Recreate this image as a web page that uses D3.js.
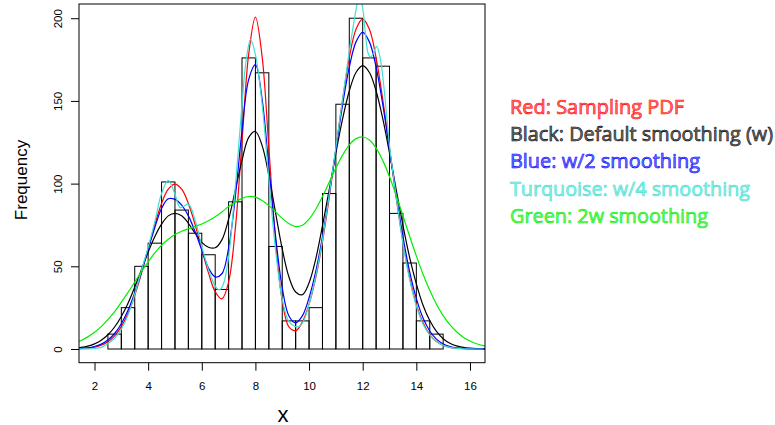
<!DOCTYPE html>
<html>
<head>
<meta charset="utf-8">
<script src="https://cdn.jsdelivr.net/npm/d3@7"></script>
<style>
  body { margin: 0; background: #fff; }
  svg { display: block; }
</style>
</head>
<body>
<script>
// histogram
const breaks = [2.5, 3, 3.5, 4, 4.5, 5, 5.5, 6, 6.5, 7, 7.5, 8, 8.5, 9, 9.5, 10, 10.5, 11, 11.5, 12, 12.5, 13, 13.5, 14, 14.5, 15];
const counts = [9, 25, 50, 64, 101, 84, 70, 57, 36, 89, 176, 167, 62, 17, 17, 25, 94, 148, 200, 176, 171, 82, 52, 17, 9];

// shared x grid for the smooth curves
const xs = [1.25, 1.5, 1.75, 2, 2.25, 2.5, 2.75, 3, 3.25, 3.5, 3.75, 4, 4.25, 4.5, 4.75, 5, 5.25, 5.5, 5.75, 6,
  6.25, 6.5, 6.75, 7, 7.25, 7.5, 7.75, 8, 8.25, 8.5, 8.75, 9, 9.25, 9.5, 9.75, 10, 10.25, 10.5, 10.75, 11,
  11.25, 11.5, 11.75, 12, 12.25, 12.5, 12.75, 13, 13.25, 13.5, 13.75, 14, 14.25, 14.5, 14.75, 15, 15.25, 15.5, 15.75, 16,
  16.25, 16.5, 16.75];

const redPdf = [0.09, 0.22, 0.51, 1.11, 2.27, 4.38, 7.94, 13.5, 21.6, 32.4, 45.6, 60.5, 75.3, 88.0, 96.6, 99.7, 96.6, 88.0, 75.3, 60.6,
  46.0, 34.6, 30.3, 40.5, 72.7, 125.4, 178.4, 200.7, 176.8, 121.7, 65.9, 29.2, 13.3, 11.0, 16.3, 27.1, 43.2, 64.8, 91.3, 121.0,
  150.6, 176.1, 193.4, 199.5, 193.4, 176.1, 150.6, 121.0, 91.3, 64.8, 43.2, 27.0, 15.9, 8.76, 4.55, 2.21, 1.01, 0.44, 0.18, 0.07,
  0.02, 0.01, 0];

const blackW = [0.49, 0.94, 1.76, 3.12, 5.3, 8.59, 13.3, 19.7, 27.7, 37.4, 48.0, 58.5, 68.0, 75.5, 80.5, 82.0, 80.5, 76.0, 70.0, 64.5,
  61.5, 61.2, 66.0, 78.5, 96.0, 114.0, 128.0, 131.5, 123.0, 105.0, 82.5, 60.5, 43.5, 34.5, 32.8, 40.0, 54.5, 74.5, 96.3, 118.5,
  139.1, 156.0, 167.2, 171.3, 167.2, 156.0, 139.1, 118.4, 96.3, 74.8, 55.4, 39.4, 26.5, 17.2, 10.6, 6.25, 3.52, 1.88, 0.97, 0.48,
  0.22, 0.1, 0.04];

const blueHalfW = [0.15, 0.35, 0.75, 1.54, 2.97, 5.43, 9.37, 15.3, 23.4, 34.0, 46.6, 60.4, 73.5, 85.0, 90.8, 90.5, 87.0, 80.5, 71.0, 59.8,
  49.0, 43.6, 45.5, 61.0, 92.0, 132.0, 163.0, 172.0, 151.0, 110.0, 68.5, 37.0, 20.0, 15.8, 20.0, 31.0, 46.9, 68.0, 93.2, 120.7,
  147.6, 170.4, 185.7, 191.5, 185.7, 170.4, 147.6, 120.7, 93.2, 68.0, 46.8, 30.6, 18.7, 10.9, 5.94, 3.08, 1.5, 0.69, 0.3, 0.12,
  0.05, 0.02, 0.01];

const green2W = [3.58, 5.18, 7.34, 10.1, 13.5, 17.8, 22.6, 28.3, 34.2, 40.5, 46.8, 52.7, 58.1, 62.8, 66.4, 69.2, 71.2, 72.7, 74.1, 75.6,
  77.6, 80.0, 82.9, 86.1, 88.9, 91.1, 92.2, 91.8, 89.8, 86.7, 82.9, 79.0, 75.8, 74.0, 74.8, 78.5, 84.5, 92.2, 100.8, 109.5,
  117.2, 123.4, 127.2, 128.2, 126.4, 121.5, 113.9, 104.2, 92.7, 80.6, 68.2, 56.3, 45.2, 35.5, 27.1, 20.2, 14.7, 10.4, 7.15, 4.81,
  3.15, 2.02, 1.25];

// turquoise follows the sample noise, so it has its own x points
const turqX = [1.25, 1.5, 1.75, 2, 2.25, 2.5, 2.75, 3, 3.25, 3.5, 3.75, 4, 4.25, 4.5, 4.75, 5, 5.2, 5.5, 5.75, 6,
  6.25, 6.5, 6.65, 6.8, 7, 7.25, 7.5, 7.65, 7.82, 8, 8.25, 8.5, 8.75, 9, 9.25, 9.5, 9.65, 9.8, 10, 10.25,
  10.5, 10.75, 11, 11.25, 11.5, 11.75, 11.87, 12, 12.1, 12.2, 12.3, 12.4, 12.52, 12.65, 12.8, 13, 13.25, 13.5, 13.75, 14,
  14.25, 14.5, 14.75, 15, 15.25, 15.5, 15.75, 16, 16.5];
const turqY = [0, 0.05, 0.1, 0.3, 1.0, 3.2, 6.5, 12.0, 20.5, 33.0, 47.5, 61.5, 77.0, 94.0, 102.0, 93.5, 85.5, 87.5, 78.0, 62.0,
  48.0, 38.0, 35.7, 39.0, 56.0, 98.0, 148.0, 174.0, 187.0, 178.0, 148.0, 103.0, 60.0, 30.0, 16.5, 13.5, 13.8, 17.0, 27.0, 44.0,
  66.0, 93.0, 122.0, 151.0, 180.0, 205.0, 215.0, 206.0, 191.0, 179.0, 176.5, 179.0, 183.0, 176.0, 157.0, 123.0, 92.0, 64.0, 42.0, 26.0,
  15.0, 8.5, 4.5, 2.2, 1.0, 0.4, 0.1, 0.03, 0];

const xTicks = [2, 4, 6, 8, 10, 12, 14, 16];
const yTicks = [0, 50, 100, 150, 200];

const legendLines = ['Red: Sampling PDF', 'Black: Default smoothing (w)', 'Blue: w/2 smoothing', 'Turquoise: w/4 smoothing', 'Green: 2w smoothing'];
const legendColors = ['#ff0000', '#000000', '#0000ff', '#40e0d0', '#00ee00'];
const legendWidths = [174, 263, 190, 240, 198];

const width = 775, height = 425;
const plot = { left: 79, right: 485, top: 4, bottom: 362.7 };

const svg = d3.select('body').append('svg')
  .attr('width', width)
  .attr('height', height);

const x = d3.scaleLinear().domain([1.422, 16.56]).range([plot.left, plot.right]);
const y = d3.scaleLinear().domain([-8.28, 208.6]).range([plot.bottom, plot.top]);

svg.append('clipPath').attr('id', 'clip')
  .append('rect')
  .attr('x', plot.left).attr('y', plot.top)
  .attr('width', plot.right - plot.left).attr('height', plot.bottom - plot.top);

// bars
svg.append('g')
  .selectAll('rect')
  .data(counts)
  .enter()
  .append('rect')
  .attr('x', (d, i) => x(breaks[i]))
  .attr('y', d => y(d))
  .attr('width', (d, i) => x(breaks[i + 1]) - x(breaks[i]))
  .attr('height', d => y(0) - y(d))
  .style('fill', 'none')
  .style('stroke', '#000')
  .style('stroke-width', 1);

const line = d3.line()
  .x(d => x(d[0]))
  .y(d => y(d[1]))
  .curve(d3.curveCatmullRom);

const curves = [
  { xv: xs, yv: redPdf, color: legendColors[0] },
  { xv: xs, yv: blackW, color: legendColors[1] },
  { xv: xs, yv: blueHalfW, color: legendColors[2] },
  { xv: turqX, yv: turqY, color: legendColors[3] },
  { xv: xs, yv: green2W, color: legendColors[4] }
];

const curveG = svg.append('g').attr('clip-path', 'url(#clip)');
curves.forEach(c => {
  curveG.append('path')
    .datum(c.xv.map((v, i) => [v, c.yv[i]]))
    .attr('d', line)
    .style('fill', 'none')
    .style('stroke', c.color)
    .style('stroke-width', 1.2);
});

// box
svg.append('rect')
  .attr('x', plot.left).attr('y', plot.top)
  .attr('width', plot.right - plot.left).attr('height', plot.bottom - plot.top)
  .style('fill', 'none').style('stroke', '#000').style('stroke-width', 1);

// x axis
const xAxis = svg.append('g')
  .attr('transform', `translate(0,${plot.bottom})`)
  .call(d3.axisBottom(x).tickValues(xTicks).tickSize(8).tickPadding(11))
  .call(g => g.select('.domain').remove());
xAxis.selectAll('text')
  .style('font-family', '"Liberation Sans", Arial, sans-serif')
  .style('font-size', '11.5px')
  .style('fill', '#000');

// y axis
const yAxis = svg.append('g')
  .attr('transform', `translate(${plot.left},0)`)
  .call(d3.axisLeft(y).tickValues(yTicks).tickSize(8))
  .call(g => g.select('.domain').remove());
yAxis.selectAll('text')
  .attr('x', 0)
  .attr('y', -17.3)
  .attr('dy', 0)
  .attr('transform', 'rotate(-90)')
  .style('text-anchor', 'middle')
  .style('font-family', '"Liberation Sans", Arial, sans-serif')
  .style('font-size', '11.5px')
  .style('fill', '#000');

svg.selectAll('.tick line').style('stroke', '#000');

svg.append('text')
  .attr('x', 283)
  .attr('y', 421.5)
  .attr('text-anchor', 'middle')
  .style('font-family', '"Liberation Sans", Arial, sans-serif')
  .style('font-size', '22px')
  .text('x');

svg.append('text')
  .attr('transform', 'translate(26.5,180) rotate(-90)')
  .attr('text-anchor', 'middle')
  .style('font-family', '"Liberation Sans", Arial, sans-serif')
  .style('font-size', '17px')
  .text('Frequency');

// legend text
const legendY = [114, 140.5, 168, 196, 222.5];
svg.append('g')
  .selectAll('text')
  .data(legendLines)
  .enter()
  .append('text')
  .attr('x', 510)
  .attr('y', (d, i) => legendY[i])
  .attr('textLength', (d, i) => legendWidths[i])
  .attr('lengthAdjust', 'spacingAndGlyphs')
  .style('font-family', '"Open Sans", "Noto Sans", sans-serif')
  .style('font-size', '20px')
  .style('fill', (d, i) => legendColors[i])
  .style('fill-opacity', 0.55)
  .style('stroke', (d, i) => legendColors[i])
  .style('stroke-width', 0.6)
  .text(d => d);
</script>
</body>
</html>
